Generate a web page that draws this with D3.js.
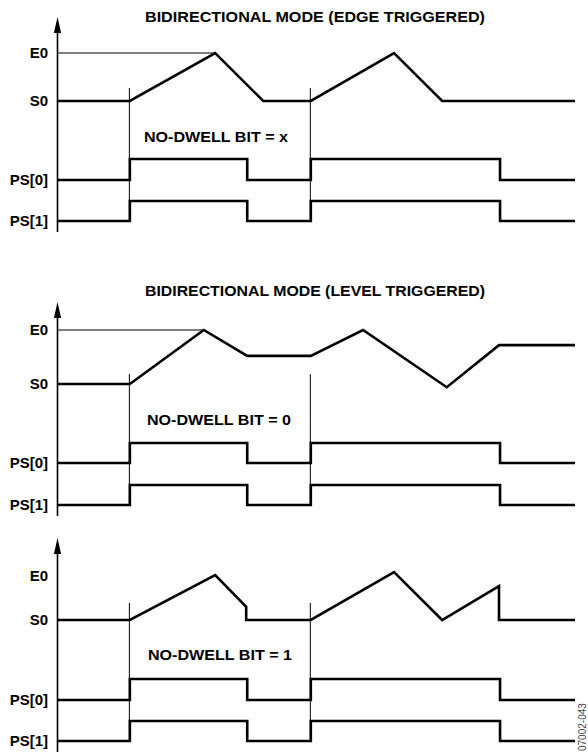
<!DOCTYPE html>
<html>
<head>
<meta charset="utf-8">
<script src="https://cdn.jsdelivr.net/npm/d3@7"></script>
<style>
  html, body { margin: 0; padding: 0; background: #fff; }
  svg { display: block; }
  text { font-family: "Liberation Sans", Arial, Helvetica, sans-serif; }
</style>
</head>
<body>
<script>
// ---------- data ----------
const panelTitles = ["BIDIRECTIONAL MODE (EDGE TRIGGERED)", "BIDIRECTIONAL MODE (LEVEL TRIGGERED)", null];
const noDwellLabels = ["NO-DWELL BIT = x", "NO-DWELL BIT = 0", "NO-DWELL BIT = 1"];
const levelLabels = ["E0", "S0"];
const signalLabels = ["PS[0]", "PS[1]"];
const figureId = "07002-043";

// time in arbitrary units (0..100); position: S0 = 0, E0 = 1
const positionEdge = [[0,0],[13.9,0],[30.4,1],[39.7,0],[48.9,0],[65.0,1],[74.3,0],[100,0]];
const positionLevel = [[0,0],[13.9,0],[28.2,1],[36.6,0.52],[48.9,0.52],[59.0,1],[75.2,-0.06],[85.3,0.72],[100,0.72]];
const positionNoDwell = [[0,0],[13.9,0],[30.4,1.02],[36.4,0.3],[36.4,0],[48.9,0],[65.0,1.09],[74.3,0],[85.3,0.77],[85.3,0],[100,0]];
const positions = [positionEdge, positionLevel, positionNoDwell];

// PS[0] and PS[1] digital states: [time, level] (step after)
const ps0States = [[0,0],[13.9,1],[36.6,0],[48.9,1],[85.5,0],[100,0]];
const ps1States = [[0,0],[13.9,1],[36.6,0],[48.9,1],[85.5,0],[100,0]];
const markerTimes = [13.9, 48.9];
const e0RefTimes = [30.4, 28.2, null];

// ---------- layout ----------
const W = 588, H = 754;
const panels = [
  {top: 17, bottom: 232, e0: 53, s0: 101, ps0: [180,159], ps1: [221,201], markTop: 88, titleY: 22, ndY: 142, ndX: 144},
  {top: 302, bottom: 516, e0: 330, s0: 384, ps0: [463,443], ps1: [505,485], markTop: 374, titleY: 296, ndY: 425, ndX: 147},
  {top: 538, bottom: 752, e0: 576, s0: 620, ps0: [700,679], ps1: [741,721], markTop: 603, titleY: null, ndY: 660, ndX: 148}
];

const svg = d3.select("body").append("svg").attr("width", W).attr("height", H);
const axisX = 57.5;
const x = d3.scaleLinear().domain([0, 100]).range([58, 575]);

panels.forEach((p, i) => {
  const g = svg.append("g");
  const y = d3.scaleLinear().domain([0, 1]).range([p.s0, p.e0]);
  const yPs0 = d3.scaleLinear().domain([0, 1]).range(p.ps0);
  const yPs1 = d3.scaleLinear().domain([0, 1]).range(p.ps1);

  // title
  if (panelTitles[i]) {
    g.append("text").attr("x", 315).attr("y", p.titleY)
      .attr("text-anchor", "middle").attr("font-weight", "bold").attr("font-size", 14)
      .attr("textLength", 340).attr("lengthAdjust", "spacingAndGlyphs")
      .text(panelTitles[i]);
  }

  // vertical axis with arrow
  g.append("line").attr("x1", axisX).attr("x2", axisX).attr("y1", p.top + 12).attr("y2", p.bottom)
    .attr("stroke", "#000").attr("stroke-width", 1.6);
  g.append("path").attr("d", `M${axisX},${p.top} L${axisX-3.6},${p.top+16} L${axisX+3.6},${p.top+16} Z`)
    .attr("fill", "#000");

  // level labels
  [[levelLabels[0], p.e0], [levelLabels[1], p.s0], [signalLabels[0], p.ps0[0]], [signalLabels[1], p.ps1[0]]]
    .forEach(([t, yy]) => {
      g.append("text").attr("x", 48).attr("y", yy).attr("dy", "0.36em")
        .attr("text-anchor", "end").attr("font-weight", "bold").attr("font-size", 15)
        .text(t);
    });

  // E0 reference line
  if (e0RefTimes[i] != null) {
    g.append("line").attr("x1", axisX).attr("x2", x(e0RefTimes[i])).attr("y1", y(1)).attr("y2", y(1))
      .attr("stroke", "#000").attr("stroke-width", 1);
  }

  // marker lines
  markerTimes.forEach(t => {
    g.append("line").attr("x1", x(t) - 0.5).attr("x2", x(t) - 0.5).attr("y1", p.markTop).attr("y2", p.ps1[0])
      .attr("stroke", "#000").attr("stroke-width", 1);
  });

  // position trace
  const posLine = d3.line().x(d => x(d[0])).y(d => y(d[1]));
  g.append("path").attr("d", posLine(positions[i]))
    .attr("fill", "none").attr("stroke", "#000").attr("stroke-width", 2.6).attr("stroke-linejoin", "miter");

  // PS signals
  const stepLine0 = d3.line().curve(d3.curveStepAfter).x(d => x(d[0])).y(d => yPs0(d[1]));
  const stepLine1 = d3.line().curve(d3.curveStepAfter).x(d => x(d[0])).y(d => yPs1(d[1]));
  g.append("path").attr("d", stepLine0(ps0States))
    .attr("fill", "none").attr("stroke", "#000").attr("stroke-width", 2.6).attr("stroke-linejoin", "miter");
  g.append("path").attr("d", stepLine1(ps1States))
    .attr("fill", "none").attr("stroke", "#000").attr("stroke-width", 2.6).attr("stroke-linejoin", "miter");

  // no-dwell label
  g.append("text").attr("x", p.ndX).attr("y", p.ndY)
    .attr("font-weight", "bold").attr("font-size", 14.5)
    .attr("textLength", 144).attr("lengthAdjust", "spacingAndGlyphs")
    .text(noDwellLabels[i]);
});

// figure id
svg.append("text").attr("transform", "translate(586,751) rotate(-90)")
  .attr("font-size", 10).attr("fill", "#444").text(figureId);
</script>
</body>
</html>
